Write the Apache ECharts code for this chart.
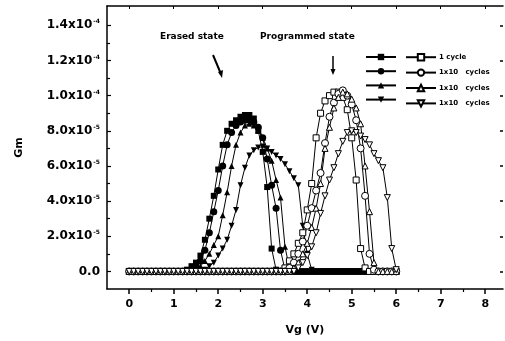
<!DOCTYPE html>
<html>
<head>
    <meta charset="utf-8" />
    <title>Gm - Vg</title>
    <script src="https://cdn.jsdelivr.net/npm/echarts@6/dist/echarts.min.js"></script>
</head>
<body style="margin:0;background:#fff;">
    <div id="main" style="width:505px;height:341px;"></div>
    <script type="text/javascript">
        // Vg (V), step 0.1 from 0 to 6
        var vg = [0,0.1,0.2,0.3,0.4,0.5,0.6,0.7,0.8,0.9,
                  1,1.1,1.2,1.3,1.4,1.5,1.6,1.7,1.8,1.9,
                  2,2.1,2.2,2.3,2.4,2.5,2.6,2.7,2.8,2.9,
                  3,3.1,3.2,3.3,3.4,3.5,3.6,3.7,3.8,3.9,
                  4,4.1,4.2,4.3,4.4,4.5,4.6,4.7,4.8,4.9,
                  5,5.1,5.2,5.3,5.4,5.5,5.6,5.7,5.8,5.9,
                  6];

        // Gm in units of 1e-5
        // erased state (filled symbols)
        var erased1 = [0,0,0,0,0,0,0,0,0,0,
                       0,0,0,0.1,0.3,0.5,0.9,1.8,3.0,4.3,
                       5.8,7.2,8.0,8.4,8.6,8.8,8.9,8.9,8.7,8.0,
                       6.8,4.8,1.3,0.1,0,0,0,0,0,0,
                       0,0,0,0,0,0,0,0,0,0,
                       0,0,0,0,0,0,0,0,0,0,
                       0];
        var erased2 = [0,0,0,0,0,0,0,0,0,0,
                       0,0,0,0,0.1,0.3,0.6,1.2,2.2,3.4,
                       4.6,6.0,7.2,7.9,8.3,8.5,8.6,8.6,8.5,8.2,
                       7.6,6.4,4.9,3.6,1.2,0.1,0,0,0,0,
                       0,0,0,0,0,0,0,0,0,0,
                       0,0,0,0,0,0,0,0,0,0,
                       0];
        var erased3 = [0,0,0,0,0,0,0,0,0,0,
                       0,0,0,0,0,0.1,0.3,0.6,1.0,1.5,
                       2.0,3.2,4.5,6.0,7.2,7.9,8.3,8.4,8.3,8.0,
                       7.6,7.0,6.3,5.2,4.2,1.4,0.2,0,0,0,
                       0,0,0,0,0,0,0,0,0,0,
                       0,0,0,0,0,0,0,0,0,0,
                       0];
        var erased4 = [0,0,0,0,0,0,0,0,0,0,
                       0,0,0,0,0,0,0,0.1,0.3,0.5,
                       0.9,1.3,1.8,2.6,3.5,4.9,5.9,6.6,6.9,7.05,
                       7.1,7.0,6.8,6.6,6.4,6.1,5.7,5.3,4.9,2.6,
                       1.0,0.1,0,0,0,0,0,0,0,0,
                       0,0,0,0,0,0,0,0,0,0,
                       0];
        // programmed state (open symbols)
        var prog1 = [0,0,0,0,0,0,0,0,0,0,
                     0,0,0,0,0,0,0,0,0,0,
                     0,0,0,0,0,0,0,0,0,0,
                     0,0,0,0,0,0.2,0.6,1.0,1.6,2.2,
                     3.5,5.0,7.6,9.0,9.7,10.0,10.2,10.2,9.9,9.2,
                     7.6,5.2,1.3,0.2,0,0,0,0,0,0,
                     0];
        var prog2 = [0,0,0,0,0,0,0,0,0,0,
                     0,0,0,0,0,0,0,0,0,0,
                     0,0,0,0,0,0,0,0,0,0,
                     0,0,0,0,0,0,0.2,0.5,1.0,1.7,
                     2.6,3.6,4.6,5.6,7.3,8.8,9.6,10.1,10.3,10.0,
                     9.5,8.6,7.0,4.3,1.0,0.1,0,0,0,0,
                     0];
        var prog3 = [0,0,0,0,0,0,0,0,0,0,
                     0,0,0,0,0,0,0,0,0,0,
                     0,0,0,0,0,0,0,0,0,0,
                     0,0,0,0,0,0,0,0.2,0.5,1.0,
                     1.6,2.5,3.6,5.0,7.0,8.2,9.3,9.9,10.2,10.1,
                     9.8,9.3,8.4,6.0,3.4,0.5,0,0,0,0,
                     0];
        var prog4 = [0,0,0,0,0,0,0,0,0,0,
                     0,0,0,0,0,0,0,0,0,0,
                     0,0,0,0,0,0,0,0,0,0,
                     0,0,0,0,0,0,0,0,0.2,0.5,
                     0.9,1.4,2.2,3.3,4.3,5.2,5.9,6.7,7.4,7.9,
                     8.0,7.9,7.7,7.5,7.2,6.7,6.3,5.9,4.2,1.3,
                     0.1];

        var legendNames = ['1 cycle', '1x10   cycles', '1x10   cycles', '1x10   cycles'];
        var xLabels = [0,1,2,3,4,5,6,7,8];
        var xMinor = [0.5,1.5,2.5,3.5,4.5,5.5,6.5,7.5];
        var yLabels = [0,2,4,6,8,10,12,14];
        var yMinor = [1,3,5,7,9,11,13];

        var downTri = 'path://M0,0 L10,0 L5,9 Z';
        var symbols = ['rect', 'circle', 'triangle', downTri];
        var font = 'DejaVu Sans';

        function pairs(ys) {
            var out = [];
            for (var i = 0; i < vg.length; i++) out.push([vg[i], ys[i]]);
            return out;
        }

        function makeSeries(name, ys, sym, open) {
            return {
                name: name,
                type: 'line',
                data: pairs(ys),
                symbol: sym,
                symbolSize: sym === 'circle' ? 7 : 6,
                showAllSymbol: true,
                animation: false,
                lineStyle: { color: '#000', width: 1 },
                itemStyle: open ? { color: '#fff', borderColor: '#000', borderWidth: 1 }
                                : { color: '#000', borderColor: '#000', borderWidth: 0 },
                emphasis: { disabled: true }
            };
        }

        var erasedData = [erased1, erased2, erased3, erased4];
        var progData = [prog1, prog2, prog3, prog4];
        var series = [];
        for (var k = 0; k < 4; k++) series.push(makeSeries('E' + (k + 1), erasedData[k], symbols[k], false));
        for (var k = 0; k < 4; k++) series.push(makeSeries('P' + (k + 1), progData[k], symbols[k], true));

        function yFmt(v) {
            if (v === 0) return '{a|0.0}';
            if (v >= 10) return '{a|' + (v / 10).toFixed(1) + 'x10}{s|-4}';
            return '{a|' + v.toFixed(1) + 'x10}{s|-5}';
        }

        var chart = echarts.init(document.getElementById('main'));
        var option = {
            backgroundColor: '#fff',
            animation: false,
            grid: { left: 107, right: 2, top: 6, bottom: 52, containLabel: false },
            legend: [
                {
                    data: ['E1', 'E2', 'E3', 'E4'],
                    orient: 'vertical', left: 360, top: 48,
                    itemWidth: 30, itemHeight: 8, itemGap: 7,
                    formatter: function () { return ''; },
                    selectedMode: false
                },
                {
                    data: ['P1', 'P2', 'P3', 'P4'],
                    orient: 'vertical', left: 400, top: 48,
                    itemWidth: 30, itemHeight: 8, itemGap: 7,
                    selectedMode: false,
                    textStyle: { color: '#000', fontFamily: font, fontSize: 7, fontWeight: 'bold', padding: [0, 0, 0, -2] },
                    formatter: function (n) { return legendNames[+n.charAt(1) - 1]; }
                }
            ],
            xAxis: [
                {
                    type: 'value', min: -0.5, max: 8.4, position: 'bottom',
                    name: 'Vg (V)', nameLocation: 'middle', nameGap: 36,
                    nameTextStyle: { color: '#000', fontFamily: font, fontSize: 11, fontWeight: 'bold' },
                    axisLine: { show: true, onZero: false, lineStyle: { color: '#000', width: 1.5 } },
                    axisTick: { show: true, inside: false, length: 5, customValues: xLabels, lineStyle: { color: '#000', width: 1.5 } },
                    axisLabel: { customValues: xLabels, color: '#000', fontFamily: font, fontSize: 11, fontWeight: 'bold', margin: 10 },
                    splitLine: { show: false }
                },
                {
                    type: 'value', min: -0.5, max: 8.4, position: 'bottom', offset: 0,
                    axisLine: { show: false, onZero: false },
                    axisTick: { show: true, inside: false, length: 3, customValues: xMinor, lineStyle: { color: '#000', width: 1.2 } },
                    axisLabel: { show: false },
                    splitLine: { show: false }
                },
                {
                    type: 'value', min: -0.5, max: 8.4, position: 'top',
                    axisLine: { show: true, onZero: false, lineStyle: { color: '#000', width: 1.5 } },
                    axisTick: { show: true, inside: true, length: 3, customValues: xLabels, lineStyle: { color: '#000' } },
                    axisLabel: { show: false },
                    splitLine: { show: false }
                }
            ],
            yAxis: [
                {
                    type: 'value', min: -1, max: 15.1, position: 'left',
                    name: 'Gm', nameLocation: 'middle', nameGap: 82, nameRotate: 90,
                    nameTextStyle: { color: '#000', fontFamily: font, fontSize: 11, fontWeight: 'bold' },
                    axisLine: { show: true, onZero: false, lineStyle: { color: '#000', width: 1.5 } },
                    axisTick: { show: true, inside: true, length: 4, customValues: yLabels, lineStyle: { color: '#000', width: 1.2 } },
                    axisLabel: {
                        customValues: yLabels, margin: 7, formatter: yFmt,
                        rich: {
                            a: { color: '#000', fontFamily: font, fontSize: 12, fontWeight: 'bold' },
                            s: { color: '#000', fontFamily: font, fontSize: 6, fontWeight: 'bold', verticalAlign: 'top', padding: [0, 0, 7, 1] }
                        }
                    },
                    splitLine: { show: false }
                },
                {
                    type: 'value', min: -1, max: 15.1, position: 'left', offset: 0,
                    axisLine: { show: false, onZero: false },
                    axisTick: { show: true, inside: true, length: 3, customValues: yMinor, lineStyle: { color: '#000', width: 1.2 } },
                    axisLabel: { show: false },
                    splitLine: { show: false }
                },
                {
                    type: 'value', min: -1, max: 15.1, position: 'right',
                    axisLine: { show: false, onZero: false },
                    axisTick: { show: true, inside: true, length: 3, customValues: yLabels, lineStyle: { color: '#000', width: 1.5 } },
                    axisLabel: { show: false },
                    splitLine: { show: false }
                }
            ],
            graphic: [
                { type: 'text', left: 160, top: 32, style: { text: 'Erased state', fill: '#000', font: 'bold 9px "DejaVu Sans"' } },
                { type: 'text', left: 260, top: 32, style: { text: 'Programmed state', fill: '#000', font: 'bold 9px "DejaVu Sans"' } },
                { type: 'line', shape: { x1: 213, y1: 55, x2: 221, y2: 74 }, style: { stroke: '#000', lineWidth: 2 } },
                { type: 'polygon', shape: { points: [[218, 72], [223, 70], [222, 78]] }, style: { fill: '#000' } },
                { type: 'line', shape: { x1: 333, y1: 56, x2: 333, y2: 70 }, style: { stroke: '#000', lineWidth: 1.5 } },
                { type: 'polygon', shape: { points: [[330.5, 69], [335.5, 69], [333, 75]] }, style: { fill: '#000' } }
            ],
            series: series
        };
        chart.setOption(option);
    </script>
</body>
</html>
